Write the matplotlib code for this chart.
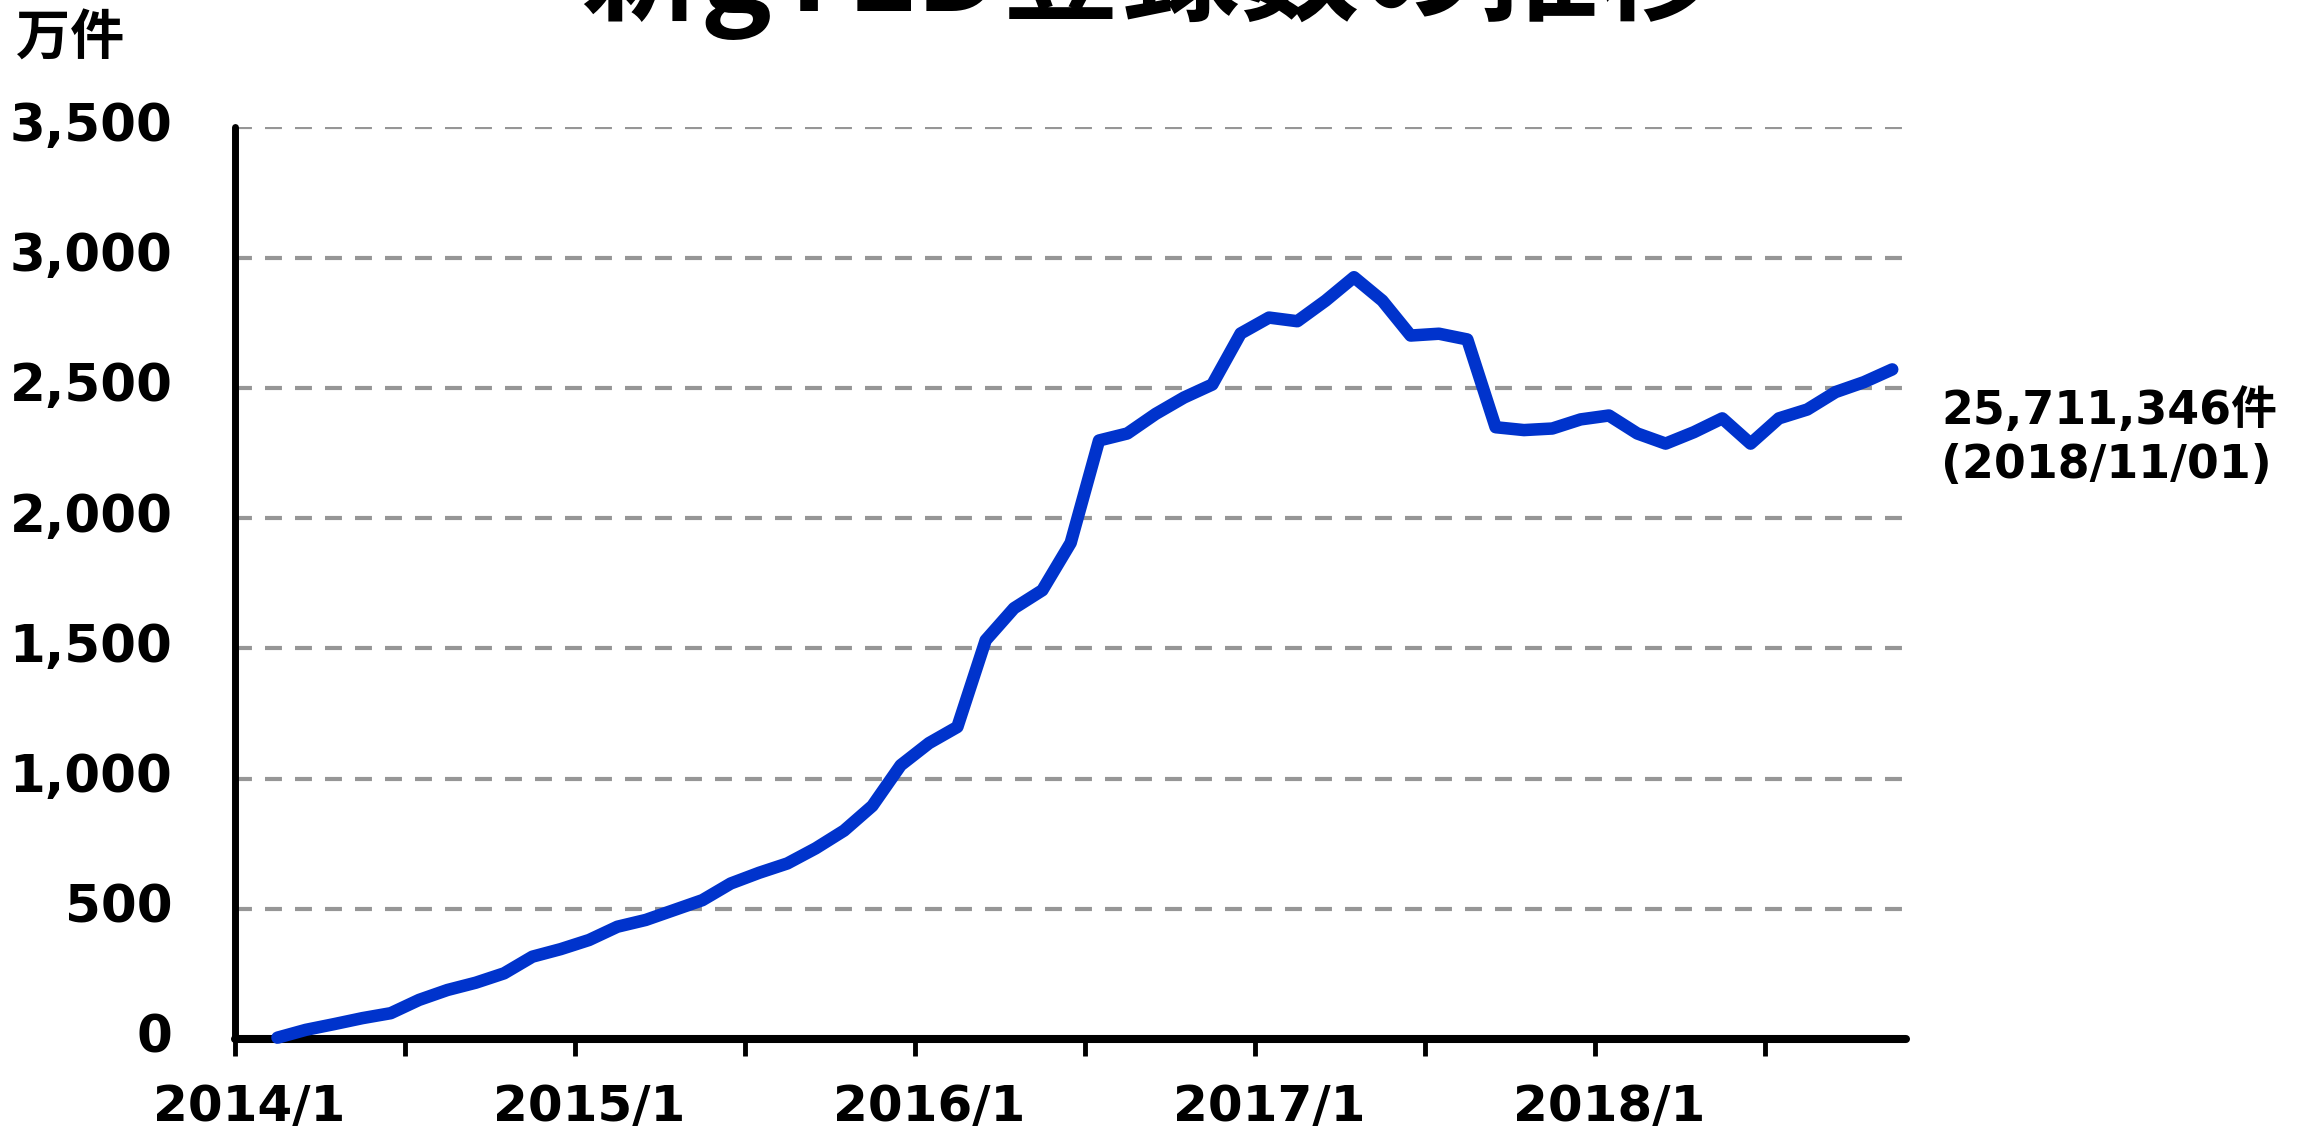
import matplotlib.pyplot as plt
import matplotlib.transforms as mtransforms
import numpy as np

plt.rcParams['font.family'] = ['DejaVu Sans', 'Noto Sans CJK JP']
plt.rcParams['font.weight'] = 'bold'
plt.rcParams['lines.scale_dashes'] = False

# category axis 2014/1 .. 2018/11, data starts at 2014/2
categories = [f'{y}/{m}' for y in range(2014, 2019) for m in range(1, 13)][:59]
first_month = '2014/2'
# new gTLD registrations, 万件
values = [5, 35, 57, 80, 99, 150, 188, 216, 252, 316,
          345, 380, 431, 457, 495, 533, 597, 638, 674, 732,
          800, 895, 1051, 1136, 1198, 1531, 1654, 1723, 1905, 2298,
          2325, 2400, 2463, 2513, 2709, 2770, 2756, 2835, 2925, 2835,
          2701, 2708, 2686, 2349, 2338, 2344, 2379, 2394, 2325, 2286,
          2330, 2383, 2286, 2383, 2417, 2484, 2522, 2571]
tick_labels = ['2014/1', '2015/1', '2016/1', '2017/1', '2018/1']
y_ticks = [0, 500, 1000, 1500, 2000, 2500, 3000, 3500]
title = '新gTLD登録数の推移'
unit = '万件'
note = '25,711,346件\n(2018/11/01)'

fig = plt.figure(figsize=(23.08, 11.33), dpi=100)
ax = fig.add_axes([0.1018, 0.0830, 0.7242, 0.8045])

start = categories.index(first_month)
x = np.arange(start, start + len(values))
ax.plot(x, values, color='#0033CC', lw=9, solid_capstyle='round',
        solid_joinstyle='round', zorder=3, clip_on=False)

ax.set_xlim(-0.5, len(categories) - 0.5)
ax.set_ylim(0, 3500)

ax.set_xticks(np.arange(-0.5, len(categories) - 1, 6))
ax.set_xticklabels([])
ax.set_xticks([categories.index(t) for t in tick_labels], minor=True)
ax.set_xticklabels(tick_labels, minor=True)
ax.tick_params(axis='x', which='major', length=12, width=3.5, color='black')
ax.tick_params(axis='x', which='minor', length=0, pad=32, labelsize=36)

ax.set_yticks(y_ticks)
ax.set_yticklabels([f'{v:,}' for v in y_ticks])
ax.tick_params(axis='y', length=0, pad=45, labelsize=37)
shift = mtransforms.ScaledTranslation(0, 6 / 100, fig.dpi_scale_trans)
for lab in ax.get_yticklabels():
    lab.set_transform(lab.get_transform() + shift)

ax.yaxis.grid(True, color='#969696', lw=3, ls=(0, (12.2, 9.4)), zorder=1)
ax.set_axisbelow(True)

for s in ['top', 'right']:
    ax.spines[s].set_visible(False)
ax.spines['left'].set_linewidth(5)
ax.spines['bottom'].set_linewidth(5.8)
for s in ['left', 'bottom']:
    ax.spines[s].set_capstyle('round')

fig.text(0.498, 1 - 11 / 1133, title, ha='center', va='baseline',
         fontsize=86, fontweight='bold', family=['Noto Sans CJK JP'])
fig.text(16 / 2308, 1 - 12 / 1133, unit, ha='left', va='top',
         fontsize=39, fontweight='bold', family=['Noto Sans CJK JP'])
fig.text(1941 / 2308, 1 - 388 / 1133, note, ha='left', va='top',
         fontsize=33, fontweight='bold', linespacing=1.25)

fig.savefig('out.png', dpi=100)
